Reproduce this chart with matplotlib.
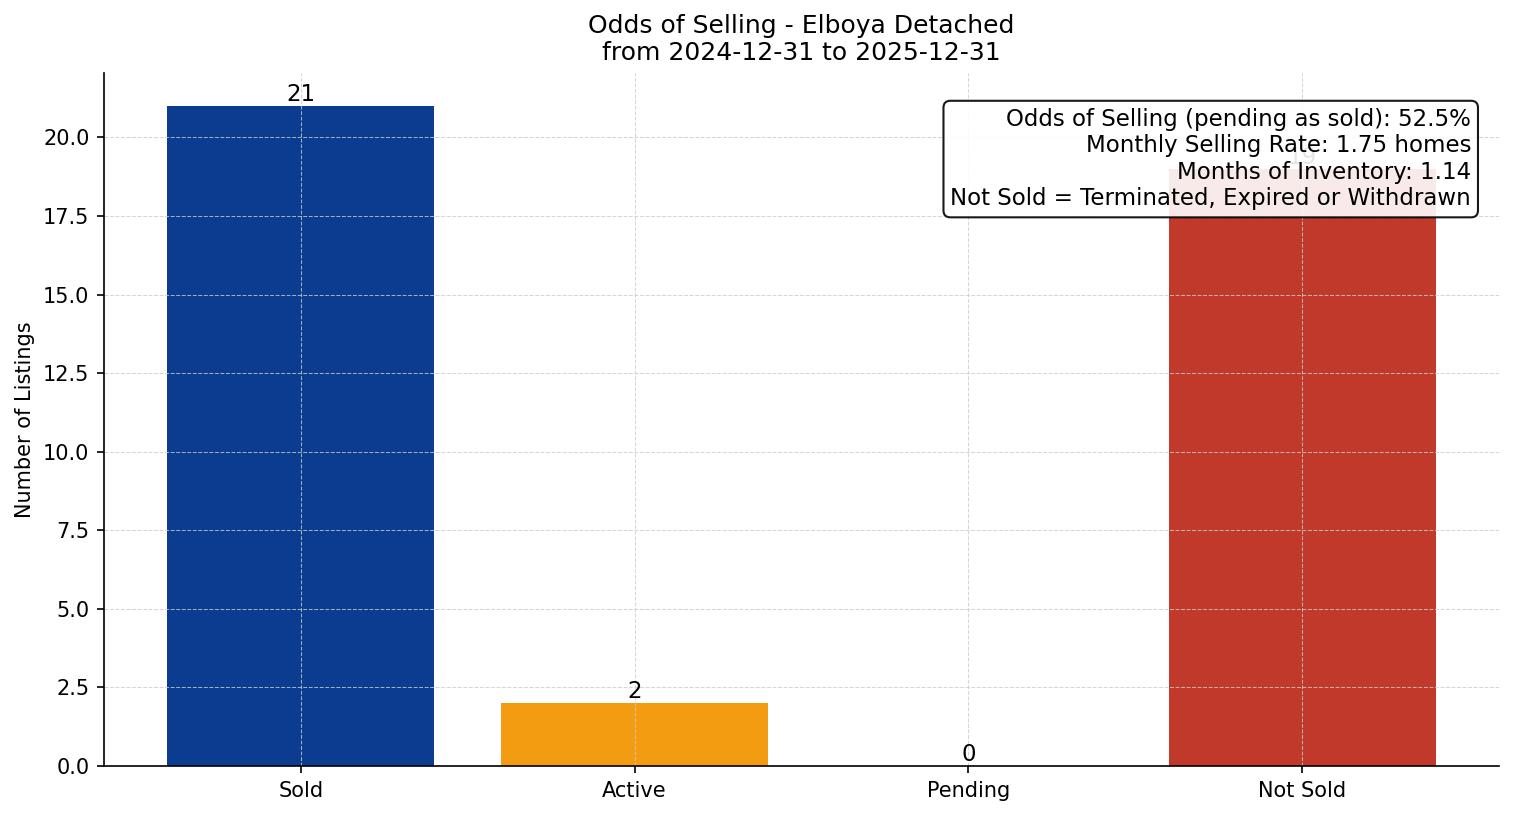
import matplotlib
matplotlib.use('Agg')
import matplotlib.pyplot as plt

# Listing status counts for the period
categories = ['Sold', 'Active', 'Pending', 'Not Sold']
counts = [21, 2, 0, 19]
bar_colors = ['#0b3c8f', '#f39c12', '#8e44ad', '#c0392b']

odds_pct = 52.5
monthly_rate = 1.75
months_inventory = 1.14

fig, ax = plt.subplots(figsize=(15.14 / 1.5, 8.16 / 1.5), dpi=150)
fig.subplots_adjust(left=104 / 1514, right=1499 / 1514, top=1 - 73 / 816, bottom=1 - 766 / 816)

bars = ax.bar(categories, counts, color=bar_colors, width=0.8)
for rect, val in zip(bars, counts):
    ax.text(rect.get_x() + rect.get_width() / 2, rect.get_height(), f'{val}',
            ha='center', va='bottom', fontsize=11)

ax.set_ylim(0, max(counts) * 1.05)
ax.set_ylabel('Number of Listings', fontsize=10)
ax.set_title('Odds of Selling - Elboya Detached\nfrom 2024-12-31 to 2025-12-31', fontsize=12)
ax.grid(True, linestyle='--', linewidth=0.5, color='#cccccc', alpha=0.8)
ax.spines['top'].set_visible(False)
ax.spines['right'].set_visible(False)
ax.tick_params(labelsize=10)

info = (f'Odds of Selling (pending as sold): {odds_pct}%\n'
        f'Monthly Selling Rate: {monthly_rate:.2f} homes\n'
        f'Months of Inventory: {months_inventory:.2f}\n'
        'Not Sold = Terminated, Expired or Withdrawn')
ax.text(0.98, 0.95, info, transform=ax.transAxes, ha='right', va='top', fontsize=11,
        bbox=dict(boxstyle='round,pad=0.3', facecolor='white', edgecolor='black', alpha=0.9))

fig.savefig('out.png', dpi=150)
